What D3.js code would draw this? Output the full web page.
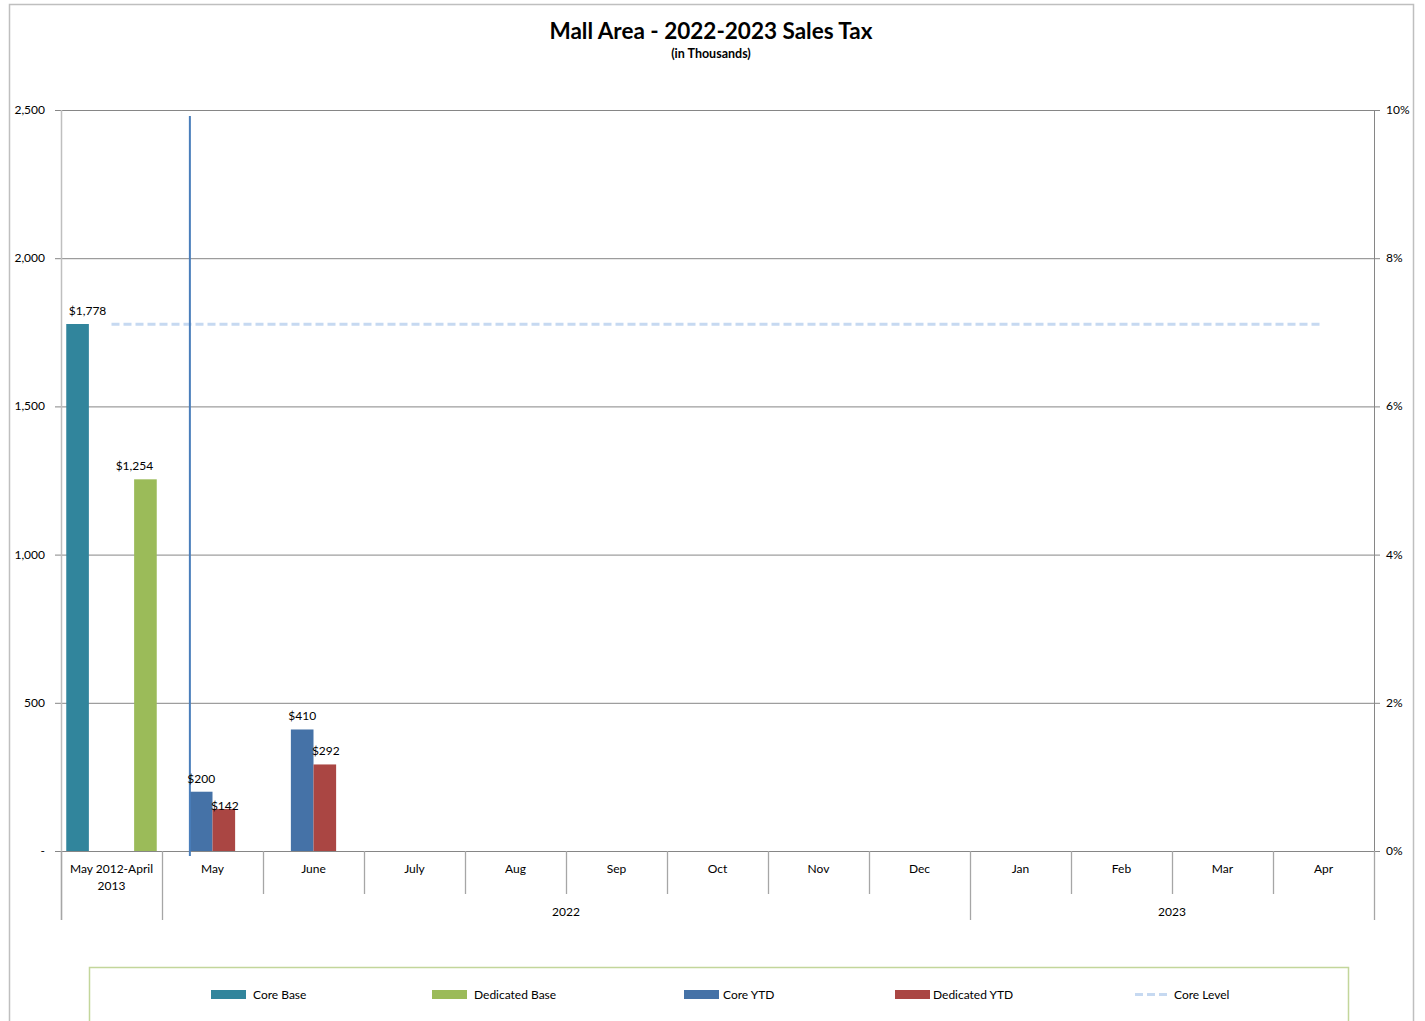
<!DOCTYPE html>
<html>
<head>
<meta charset="utf-8">
<script src="https://cdn.jsdelivr.net/npm/d3@7"></script>
<style>
  body { margin: 0; background: #fff; }
  svg { font-family: Lato, 'Open Sans', sans-serif; }
</style>
</head>
<body>
<svg width="1425" height="1021"></svg>
<script>
'use strict'

// data
const categories = ['May 2012-April 2013', 'May', 'June', 'July', 'Aug', 'Sep', 'Oct', 'Nov', 'Dec', 'Jan', 'Feb', 'Mar', 'Apr']
const years = [
  { label: '2022', from: 'May', to: 'Dec' },
  { label: '2023', from: 'Jan', to: 'Apr' }
]
const seriesNames = ['Core Base', 'Dedicated Base', 'Core YTD', 'Dedicated YTD']
// order the bars sit in inside each category
const slotOrder = ['Core Base', 'Core YTD', 'Dedicated YTD', 'Dedicated Base']
const coreBase = [1778, null, null, null, null, null, null, null, null, null, null, null, null]
const dedicatedBase = [1254, null, null, null, null, null, null, null, null, null, null, null, null]
const coreYTD = [null, 200, 410, null, null, null, null, null, null, null, null, null, null]
const dedicatedYTD = [null, 142, 292, null, null, null, null, null, null, null, null, null, null]
const coreLevel = 0.0711 // secondary axis, flat across all months
const yTicks = [0, 500, 1000, 1500, 2000, 2500]
const y2Ticks = [0, 0.02, 0.04, 0.06, 0.08, 0.1]
const markerLine = { category: 'May', series: 'Core YTD', from: -17, to: 2480 }

const colors = {
  'Core Base': '#31859c',
  'Dedicated Base': '#9bbb59',
  'Core YTD': '#4572a7',
  'Dedicated YTD': '#aa4643',
  'Core Level': '#c6d9f1'
}
// small hand nudges for the value labels, like the original
const labelNudge = { 'Core Base': 10, 'Dedicated Base': -11, 'Dedicated YTD': 1 }

const svg = d3.select('svg')
const plotLeft = 61, plotRight = 1374, plotTop = 110, plotBottom = 851

// outer chart border
svg.append('rect').attr('x', 9.5).attr('y', 4.5).attr('width', 1404).attr('height', 1040)
  .style('fill', 'none').style('stroke', '#bfbfbf').style('stroke-width', 1.5)

svg.append('text').attr('x', 711).attr('y', 39).attr('text-anchor', 'middle')
  .style('font-size', '22.5px').style('font-weight', 'bold').text('Mall Area - 2022-2023 Sales Tax')
svg.append('text').attr('x', 711).attr('y', 58).attr('text-anchor', 'middle')
  .style('font-size', '12.5px').style('font-weight', 'bold').text('(in Thousands)')

const x = d3.scaleBand().domain(categories).range([plotLeft, plotRight]).padding(0)
const bw = x.bandwidth()
const x1 = d3.scaleBand().domain(slotOrder).range([bw * 0.052, bw * 0.948]).padding(0)
const y = d3.scaleLinear().domain([0, 2500]).range([plotBottom, plotTop])
const y2 = d3.scaleLinear().domain([0, 0.1]).range([plotBottom, plotTop])

// gridlines with ticks hanging out each side
svg.selectAll('line.grid').data(yTicks).enter().append('line').classed('grid', true)
  .attr('x1', plotLeft - 6).attr('x2', plotRight + 6)
  .attr('y1', (d) => y(d) + 0.5).attr('y2', (d) => y(d) + 0.5)
  .style('stroke', '#868686').style('stroke-width', 1)

// left axis line and labels
svg.append('line').attr('x1', plotLeft + 0.5).attr('x2', plotLeft + 0.5).attr('y1', plotTop).attr('y2', 920)
  .style('stroke', '#bfbfbf').style('stroke-width', 1.5)
svg.selectAll('text.ytick').data(yTicks).enter().append('text').classed('ytick', true)
  .attr('x', 45).attr('y', (d) => y(d) + 4).attr('text-anchor', 'end')
  .style('font-size', '12px').style('fill', '#000')
  .text((d) => d === 0 ? '-' : d3.format(',')(d))

// right axis
svg.append('line').attr('x1', plotRight + 0.5).attr('x2', plotRight + 0.5).attr('y1', plotTop).attr('y2', 920)
  .style('stroke', '#868686')
svg.selectAll('text.y2tick').data(y2Ticks).enter().append('text').classed('y2tick', true)
  .attr('x', 1386).attr('y', (d) => y2(d) + 4)
  .style('font-size', '12px').text((d) => d3.format('.0%')(d))

// category dividers
const yearBounds = new Set([plotLeft, plotRight])
years.forEach((g) => { yearBounds.add(x(g.from)) })
const bounds = categories.map((c) => x(c)).concat([plotRight])
svg.selectAll('line.cat').data(bounds).enter().append('line').classed('cat', true)
  .attr('x1', (d) => Math.round(d) + 0.5).attr('x2', (d) => Math.round(d) + 0.5)
  .attr('y1', plotBottom).attr('y2', (d) => yearBounds.has(d) ? 920 : 894)
  .style('stroke', '#a6a6a6').style('stroke-width', 1.3)

// category labels
categories.forEach((c) => {
  const t = svg.append('text').attr('x', x(c) + bw / 2).attr('y', 873).attr('text-anchor', 'middle')
    .style('font-size', '12px')
  if (c === 'May 2012-April 2013') {
    t.append('tspan').attr('x', x(c) + bw / 2).text('May 2012-April')
    t.append('tspan').attr('x', x(c) + bw / 2).attr('dy', 17).text('2013')
  } else {
    t.text(c)
  }
})
svg.selectAll('text.year').data(years).enter().append('text').classed('year', true)
  .attr('x', (d) => (x(d.from) + x(d.to) + bw) / 2).attr('y', 916).attr('text-anchor', 'middle')
  .style('font-size', '12px').text((d) => d.label)

// bars
const seriesData = [coreBase, dedicatedBase, coreYTD, dedicatedYTD]
const barData = []
seriesNames.forEach((s, i) => {
  seriesData[i].forEach((v, j) => {
    if (v != null) barData.push({ series: s, category: categories[j], value: v })
  })
})

svg.selectAll('rect.bar').data(barData).enter().append('rect').classed('bar', true)
  .attr('x', (d) => x(d.category) + x1(d.series))
  .attr('width', x1.bandwidth())
  .attr('y', (d) => y(d.value))
  .attr('height', (d) => y(0) - y(d.value))
  .style('fill', (d) => colors[d.series])

// core level dashed line across category centres
svg.append('line')
  .attr('x1', x(categories[0]) + bw / 2).attr('x2', x(categories[categories.length - 1]) + bw / 2)
  .attr('y1', y2(coreLevel)).attr('y2', y2(coreLevel))
  .style('stroke', colors['Core Level']).style('stroke-width', 3).style('stroke-dasharray', '8,4')

// stray vertical marker line
const mx = x(markerLine.category) + x1(markerLine.series)
svg.append('line').attr('x1', mx).attr('x2', mx)
  .attr('y1', y(markerLine.to)).attr('y2', y(markerLine.from))
  .style('stroke', '#4a7ebb').style('stroke-width', 2)

// value labels
svg.selectAll('text.val').data(barData).enter().append('text').classed('val', true)
  .attr('x', (d) => x(d.category) + x1(d.series) + x1.bandwidth() / 2 + (labelNudge[d.series] || 0))
  .attr('y', (d) => y(d.value) - (d.series === 'Dedicated YTD' && d.value < 200 ? -1 : 9))
  .attr('text-anchor', 'middle').style('font-size', '12px')
  .text((d) => d3.format('$,')(d.value))

// legend
svg.append('rect').attr('x', 89.5).attr('y', 967.5).attr('width', 1259).attr('height', 70)
  .style('fill', 'none').style('stroke', '#c3d69b').style('stroke-width', 1.5)
const legendX = [211, 432, 684, 895, 1135]
const legendTextX = [42, 42, 39, 38, 39]
const legendItems = seriesNames.concat(['Core Level'])
const lg = svg.selectAll('g.legend').data(legendItems).enter().append('g').classed('legend', true)
  .attr('transform', (d, i) => `translate(${legendX[i]},994)`)
lg.each(function(d, i) {
  const g = d3.select(this)
  if (d === 'Core Level') {
    g.append('line').attr('x1', 0).attr('x2', 34).attr('y1', 0.5).attr('y2', 0.5)
      .style('stroke', colors[d]).style('stroke-width', 3).style('stroke-dasharray', '8,4')
  } else {
    g.append('rect').attr('x', 0).attr('y', -4).attr('width', 35).attr('height', 9).style('fill', colors[d])
  }
  g.append('text').attr('x', legendTextX[i]).attr('y', 5)
    .style('font-size', '12px').text(d)
})
</script>
</body>
</html>
